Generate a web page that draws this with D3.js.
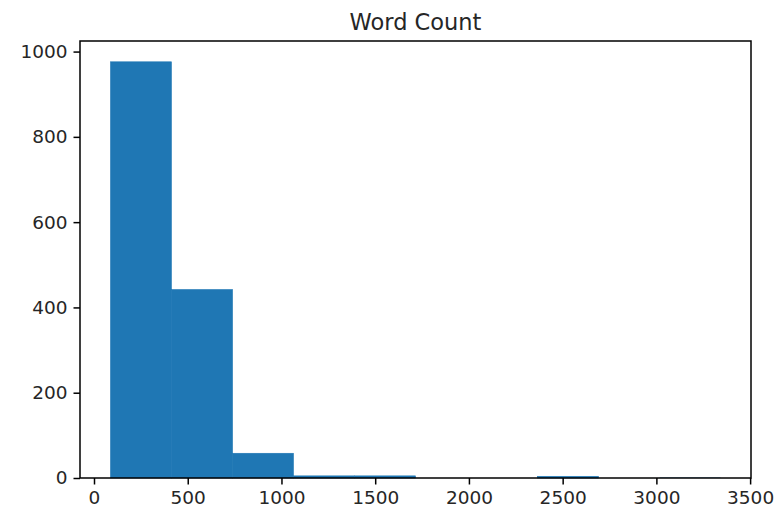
<!DOCTYPE html>
<html>
<head>
<meta charset="utf-8">
<script src="https://cdn.jsdelivr.net/npm/d3@7"></script>
<style>
  html, body { margin: 0; padding: 0; background: #fff; }
  svg { display: block; }
  text { font-family: "DejaVu Sans", sans-serif; fill: #262626; }
</style>
</head>
<body>
<svg id="chart" width="775" height="512"></svg>
<script>
// Histogram bin edges (word counts) and counts per bin
const binEdges = [88, 413, 739, 1064, 1390, 1715, 2040, 2366, 2691, 3017, 3342];
const binCounts = [976, 442, 58, 5, 5, 0, 0, 4, 0, 1];
const xTicks = [0, 500, 1000, 1500, 2000, 2500, 3000, 3500];
const yTicks = [0, 200, 400, 600, 800, 1000];
const title = "Word Count";

const svg = d3.select("#chart");
const margin = { left: 80, right: 24, top: 41, bottom: 34 };
const W = 775, H = 512;
const x0 = margin.left, x1 = W - margin.right, y0 = H - margin.bottom, y1 = margin.top;

const span = binEdges[binEdges.length - 1] - binEdges[0];
const x = d3.scaleLinear()
  .domain([binEdges[0] - 0.05 * span, binEdges[binEdges.length - 1] + 0.05 * span])
  .range([x0, x1]);
const y = d3.scaleLinear()
  .domain([0, d3.max(binCounts) * 1.05])
  .range([y0, y1]);

const bins = binCounts.map((c, i) => ({ x0: binEdges[i], x1: binEdges[i + 1], c }));

svg.append("g").selectAll("rect").data(bins.filter(d => d.c > 0)).join("rect")
  .attr("x", d => x(d.x0))
  .attr("width", d => x(d.x1) - x(d.x0))
  .attr("y", d => y(d.c))
  .attr("height", d => y(0) - y(d.c))
  .attr("fill", "#1f77b4")
  .attr("stroke", d => (y(0) - y(d.c)) >= 1 ? "#1f77b4" : "none")
  .attr("stroke-width", 0.6);

// frame
svg.append("rect")
  .attr("x", x0).attr("y", y1)
  .attr("width", x1 - x0).attr("height", y0 - y1)
  .attr("fill", "none").attr("stroke", "#000").attr("stroke-width", 1.5);

const xAxis = svg.append("g").attr("transform", `translate(0,${y0})`)
  .call(d3.axisBottom(x).tickValues(xTicks).tickFormat(d3.format("d")).tickSize(6.5).tickPadding(6));
const yAxis = svg.append("g").attr("transform", `translate(${x0},0)`)
  .call(d3.axisLeft(y).tickValues(yTicks).tickFormat(d3.format("d")).tickSize(6.5).tickPadding(6));

[xAxis, yAxis].forEach(g => {
  g.select(".domain").remove();
  g.selectAll(".tick line").attr("stroke", "#000").attr("stroke-width", 1.5);
  g.selectAll(".tick text").attr("font-size", "18.5px").attr("font-family", "DejaVu Sans, sans-serif").attr("fill", "#262626");
});

svg.append("text")
  .attr("x", (x0 + x1) / 2).attr("y", 30)
  .attr("text-anchor", "middle")
  .attr("font-size", "22.5px")
  .text(title);
</script>
</body>
</html>
